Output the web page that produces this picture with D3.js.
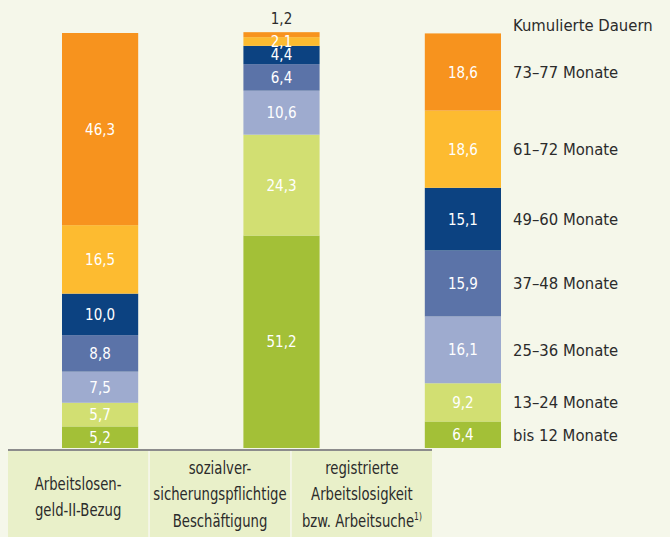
<!DOCTYPE html>
<html>
  <head>
    <meta charset="utf-8">
    <title>Kumulierte Dauern</title>
    <script src="https://cdn.jsdelivr.net/npm/d3@7"></script>
    <style>
      body { margin: 0; background: #f5f7ea; }
      svg { display: block; font-family: "DejaVu Sans Condensed", "DejaVu Sans", sans-serif; }
      .value { fill: #fff; font-size: 15px; text-anchor: middle; }
      .legend text { fill: #2b2b2b; font-size: 16.5px; }
      .cat text { fill: #2b2b2b; font-size: 17.5px; text-anchor: middle; }
    </style>
  </head>
  <body>
    <svg id="chart" width="670" height="537"></svg>

    <script>
      // data
      categories = ["alg2", "svb", "alo"];
      categoryLines = [
        ["Arbeitslosen-", "geld-II-Bezug"],
        ["sozialver-", "sicherungspflichtige", "Beschäftigung"],
        ["registrierte", "Arbeitslosigkeit", "bzw. Arbeitsuche"]
      ];
      durations = ["bis 12 Monate", "13–24 Monate", "25–36 Monate", "37–48 Monate", "49–60 Monate", "61–72 Monate", "73–77 Monate"];
      alg2 = [5.2, 5.7, 7.5, 8.8, 10.0, 16.5, 46.3];
      svb = [51.2, 24.3, 10.6, 6.4, 4.4, 2.1, 1.2];
      alo = [6.4, 9.2, 16.1, 15.9, 15.1, 18.6, 18.6];
      colours = ["#a3c037", "#d2df72", "#9eabcf", "#5b73a8", "#0c4281", "#fdbb30", "#f7931e"];

      svg = d3.select("#chart");
      series = [alg2, svb, alo];

      x = d3.scaleBand()
        .domain(categories)
        .range([62, 501])
        .paddingInner(0.58)
        .paddingOuter(0);
      boxX = d3.scaleBand()
        .domain(categories)
        .range([8, 432])
        .paddingInner(0.012);
      y = d3.scaleLinear()
        .domain([0, 100])
        .range([448, 33]);
      colour = d3.scaleOrdinal()
        .domain(durations)
        .range(colours);

      // stack each column
      stacked = series.map(function(vals, i) {
        var acc = 0;
        return vals.map(function(v, j) {
          var seg = { cat: categories[i], key: durations[j], y0: acc, y1: acc + v, value: v };
          acc += v;
          return seg;
        });
      });

      bars = svg.append("g");
      stacked.forEach(function(col) {
        var g = bars.append("g");
        g.selectAll("rect")
          .data(col)
          .enter().append("rect")
            .attr("x", function(d) { return x(d.cat); })
            .attr("width", x.bandwidth())
            .attr("y", function(d) { return y(d.y1); })
            .attr("height", function(d) { return y(d.y0) - y(d.y1); })
            .attr("fill", function(d) { return colour(d.key); });
        g.selectAll("text")
          .data(col)
          .enter().append("text")
            .attr("class", "value")
            .attr("x", function(d) { return x(d.cat) + x.bandwidth() / 2; })
            .attr("y", function(d) {
              if (d.value < 2) return y(d.y1) - 8;
              return (y(d.y0) + y(d.y1)) / 2 + 5.5;
            })
            .style("fill", function(d) { return d.value < 2 ? "#2b2b2b" : null; })
            .text(function(d) { return d3.format(".1f")(d.value).replace(".", ","); });
      });

      // legend on the last column's segment centres
      last = stacked[2];
      legend = svg.append("g").attr("class", "legend");
      legend.selectAll("text")
        .data(last)
        .enter().append("text")
          .attr("x", 513)
          .attr("y", function(d) { return (y(d.y0) + y(d.y1)) / 2 + 6; })
          .text(function(d) { return d.key; });
      legend.append("text")
        .attr("x", 513)
        .attr("y", 31)
        .text("Kumulierte Dauern");

      // category boxes
      cat = svg.append("g").attr("class", "cat");
      cat.append("line")
        .attr("x1", 8).attr("x2", 432)
        .attr("y1", 450).attr("y2", 450)
        .attr("stroke", "#8c8c8c")
        .attr("stroke-width", 2);
      cat.selectAll("rect")
        .data(categories)
        .enter().append("rect")
          .attr("x", function(d) { return boxX(d); })
          .attr("width", boxX.bandwidth())
          .attr("y", 451)
          .attr("height", 86)
          .attr("fill", "#e9f0c9");
      cat.selectAll("text")
        .data(categories)
        .enter().append("text")
          .attr("transform", function(d, i) {
            var n = categoryLines[i].length;
            return "translate(" + (boxX(d) + boxX.bandwidth() / 2) + "," + (n == 2 ? 490 : 474) + ") scale(0.84,1)";
          })
          .each(function(d, i) {
            var t = d3.select(this);
            categoryLines[i].forEach(function(line, k) {
              t.append("tspan")
                .attr("x", 0)
                .attr("y", k * 26.5)
                .text(line);
            });
            if (i == 2) {
              t.append("tspan")
                .attr("dy", -7)
                .style("font-size", "10px")
                .text("1)");
            }
          });
    </script>
  </body>
</html>
